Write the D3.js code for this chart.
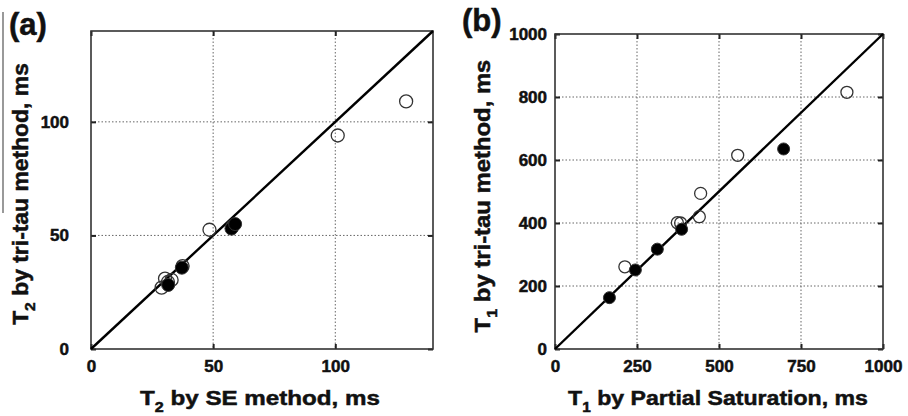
<!DOCTYPE html>
<html>
<head>
<meta charset="utf-8">
<script src="https://cdn.jsdelivr.net/npm/d3@7"></script>
<style>
  html, body { margin: 0; padding: 0; background: #fff; }
  svg { display: block; font-family: "Liberation Sans", Arial, sans-serif; font-weight: bold; }
</style>
</head>
<body>
<svg id="chart" width="908" height="416"></svg>
<script>
// ---------- data ----------
// Panel (a): T2 by SE method (x) vs T2 by tri-tau method (y), ms
const t2Open   = [[129,109],[101,94],[48.5,52.5],[58,54],[37.5,36.5],[30.3,31],[28.9,27],[33,30.4],[31.5,29.5]];
const t2Filled = [[57.5,53],[59,55],[37.2,35.8],[31.6,28.2]];
const t2Ticks  = [0, 50, 100];
const t2Domain = [0, 140];

// Panel (b): T1 by Partial Saturation (x) vs T1 by tri-tau method (y), ms
const t1Open   = [[890,815],[557,615],[444,494],[440,420],[373,401],[383,400],[213,261]];
const t1Filled = [[697,635],[386,380],[312,317],[245,251],[166,163]];
const t1XTicks = [0, 250, 500, 750, 1000];
const t1YTicks = [0, 200, 400, 600, 800, 1000];
const t1Domain = [0, 1000];

const svg = d3.select("#chart");

function measureAndFit(textSel, targetLen) {
  const w = textSel.node().getComputedTextLength();
  return targetLen / w;
}

function panel(cfg) {
  const x = d3.scaleLinear().domain(cfg.domain).range([cfg.left, cfg.right]);
  const y = d3.scaleLinear().domain(cfg.domain).range([cfg.bottom, cfg.top]);
  const g = svg.append("g");

  // grid
  const gx = cfg.xTicks.filter(v => v > cfg.domain[0] && v < cfg.domain[1]);
  const gy = cfg.yTicks.filter(v => v > cfg.domain[0] && v < cfg.domain[1]);
  g.selectAll(".gx").data(gx).enter().append("line")
    .attr("x1", d => x(d)).attr("x2", d => x(d))
    .attr("y1", cfg.top).attr("y2", cfg.bottom)
    .attr("stroke", "#666").attr("stroke-width", 1).attr("stroke-dasharray", "1.5,2");
  g.selectAll(".gy").data(gy).enter().append("line")
    .attr("y1", d => y(d)).attr("y2", d => y(d))
    .attr("x1", cfg.left).attr("x2", cfg.right)
    .attr("stroke", "#666").attr("stroke-width", 1).attr("stroke-dasharray", "1.5,2");

  // axes (inward ticks)
  const fmt = d3.format("d");
  const axB = g.append("g").attr("transform", `translate(0,${cfg.bottom})`)
    .call(d3.axisBottom(x).tickValues(cfg.xTicks).tickSize(-5).tickPadding(11).tickFormat(fmt));
  const axT = g.append("g").attr("transform", `translate(0,${cfg.top})`)
    .call(d3.axisTop(x).tickValues(cfg.xTicks).tickSize(-5).tickFormat(""));
  const axL = g.append("g").attr("transform", `translate(${cfg.left},0)`)
    .call(d3.axisLeft(y).tickValues(cfg.yTicks).tickSize(-5).tickPadding(cfg.yPad).tickFormat(fmt));
  const axR = g.append("g").attr("transform", `translate(${cfg.right},0)`)
    .call(d3.axisRight(y).tickValues(cfg.yTicks).tickSize(-5).tickFormat(""));
  [axB, axT, axL, axR].forEach(a => {
    a.select(".domain").remove();
    a.selectAll(".tick line").attr("stroke", "#222").attr("stroke-width", 2);
    a.selectAll("text").attr("font-size", 17).attr("font-weight", "bold")
      .attr("font-family", "Liberation Sans, Arial, sans-serif").attr("fill", "#111")
      .attr("stroke", "#111").attr("stroke-width", 0.5);
  });

  // box
  g.append("rect").attr("x", cfg.left).attr("y", cfg.top)
    .attr("width", cfg.right - cfg.left).attr("height", cfg.bottom - cfg.top)
    .attr("fill", "none").attr("stroke", "#333").attr("stroke-width", 1.6);

  // identity line
  g.append("line")
    .attr("x1", x(cfg.domain[0])).attr("y1", y(cfg.domain[0]))
    .attr("x2", x(cfg.domain[1])).attr("y2", y(cfg.domain[1]))
    .attr("stroke", "#000").attr("stroke-width", 2.4);

  // points
  g.selectAll(".op").data(cfg.open).enter().append("circle")
    .attr("cx", d => x(d[0])).attr("cy", d => y(d[1])).attr("r", cfg.r)
    .attr("fill", "none").attr("stroke", "#333").attr("stroke-width", 1.3);
  g.selectAll(".fp").data(cfg.filled).enter().append("circle")
    .attr("cx", d => x(d[0])).attr("cy", d => y(d[1])).attr("r", cfg.r)
    .attr("fill", "#000").attr("stroke", "#333").attr("stroke-width", 1);

  // x title
  const xt = g.append("text").attr("font-size", 21).attr("fill", "#111").attr("text-anchor", "middle")
    .attr("stroke", "#111").attr("stroke-width", 0.5);
  xt.append("tspan").text(cfg.xSym);
  xt.append("tspan").attr("font-size", 14).attr("dy", 7).text(cfg.xSub);
  xt.append("tspan").attr("dy", -7).text(" " + cfg.xLabel);
  const sx = measureAndFit(xt, cfg.xTitleW);
  xt.attr("transform", `translate(${cfg.xTitleCx},${cfg.xTitleBase}) scale(${sx},1)`);

  // y title
  const yt = g.append("text").attr("font-size", 22).attr("fill", "#111").attr("text-anchor", "middle")
    .attr("stroke", "#111").attr("stroke-width", 0.5);
  yt.append("tspan").text(cfg.ySym);
  yt.append("tspan").attr("font-size", 15).attr("dy", 7).text(cfg.ySub);
  yt.append("tspan").attr("dy", -7).text(" " + cfg.yLabel);
  const sy = measureAndFit(yt, cfg.yTitleW);
  yt.attr("transform", `translate(${cfg.yTitleBase},${cfg.yTitleCy}) rotate(-90) scale(${sy},1)`);

  // panel label
  g.append("text").attr("x", cfg.labX).attr("y", cfg.labY)
    .attr("font-size", 31).attr("fill", "#111").attr("stroke", "#111").attr("stroke-width", 0.5)
    .text(cfg.label);
  return g;
}

panel({
  domain: t2Domain, xTicks: t2Ticks, yTicks: t2Ticks,
  left: 91, right: 433, top: 31, bottom: 349, yPad: 22,
  open: t2Open, filled: t2Filled, r: 6.5,
  xSym: "T", xSub: "2", xLabel: "by SE method, ms", xTitleW: 240, xTitleCx: 260, xTitleBase: 405,
  ySym: "T", ySub: "2", yLabel: "by tri-tau method, ms", yTitleW: 262, yTitleCy: 194, yTitleBase: 28,
  label: "(a)", labX: 9, labY: 35
});

panel({
  domain: t1Domain, xTicks: t1XTicks, yTicks: t1YTicks,
  left: 555, right: 883, top: 34, bottom: 349, yPad: 8,
  open: t1Open, filled: t1Filled, r: 6,
  xSym: "T", xSub: "1", xLabel: "by Partial Saturation, ms", xTitleW: 300, xTitleCx: 718, xTitleBase: 405,
  ySym: "T", ySub: "1", yLabel: "by tri-tau method, ms", yTitleW: 273, yTitleCy: 196, yTitleBase: 490,
  label: "(b)", labX: 462, labY: 31
});

// thin overline artifact beside the left y title
svg.append("line").attr("x1", 3).attr("x2", 3).attr("y1", 12).attr("y2", 213)
  .attr("stroke", "#777").attr("stroke-width", 1.5);
</script>
</body>
</html>
